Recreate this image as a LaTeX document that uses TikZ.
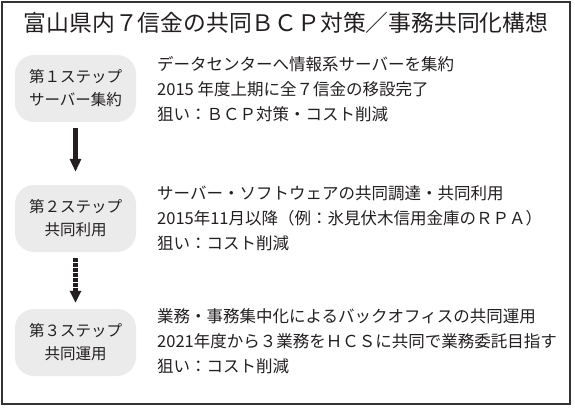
\documentclass[tikz,border=0pt]{standalone}
\usepackage{fontspec}
\setmainfont{Noto Sans CJK JP}
\usetikzlibrary{arrows.meta}
\definecolor{ink}{HTML}{231F20}
\definecolor{boxgray}{HTML}{EBEBEB}
\definecolor{framegray}{HTML}{333333}
\tikzset{
  stepbox/.style={fill=boxgray, draw=none, rounded corners=19pt, minimum width=121pt, minimum height=67pt, inner sep=0pt, align=center, text=ink, font=\fontsize{15.5pt}{23pt}\selectfont},
  body/.style={anchor=west, inner sep=0pt, align=left, text=ink, font=\fontsize{16.5pt}{25pt}\selectfont},
  titlestyle/.style={inner sep=0pt, text=ink, font=\fontsize{22.8pt}{26pt}\selectfont},
  solidarrow/.style={draw=ink, line width=4.5pt, -{Triangle[width=11pt,length=13pt]}, shorten <=6pt, shorten >=13pt},
  dasharrow/.style={draw=ink, line width=4.5pt, dash pattern=on 3.3pt off 1.7pt, -{Triangle[width=11pt,length=12pt]}, shorten <=6pt, shorten >=6pt},
  framestyle/.style={draw=framegray, line width=2pt}
}
\begin{document}
\begin{tikzpicture}[x=1pt,y=-1pt]
\useasboundingbox (0,0) rectangle (575,410);
\draw[framestyle] (1.5,1.5) rectangle (569.5,404);
\node[titlestyle] (title) at (286,23) {富山県内７信金の共同ＢＣＰ対策／事務共同化構想};
\node[stepbox] (s1) at (75.5,88.5) {第１ステップ\\サーバー集約};
\node[stepbox] (s2) at (75.5,218.5) {第２ステップ\\共同利用};
\node[stepbox] (s3) at (75.5,342.5) {第３ステップ\\共同運用};
\node[body] (t1) at (157,89) {データセンターへ情報系サーバーを集約\\2015 年度上期に全７信金の移設完了\\狙い：ＢＣＰ対策・コスト削減};
\node[body] (t2) at (157,218.5) {サーバー・ソフトウェアの共同調達・共同利用\\2015年11月以降（例：氷見伏木信用金庫のＲＰＡ）\\狙い：コスト削減};
\node[body] (t3) at (157,341) {業務・事務集中化によるバックオフィスの共同運用\\2021年度から３業務をＨＣＳに共同で業務委託目指す\\狙い：コスト削減};
\draw[solidarrow] (s1) -- (s2);
\draw[dasharrow] (s2) -- (s3);
\end{tikzpicture}
\end{document}
